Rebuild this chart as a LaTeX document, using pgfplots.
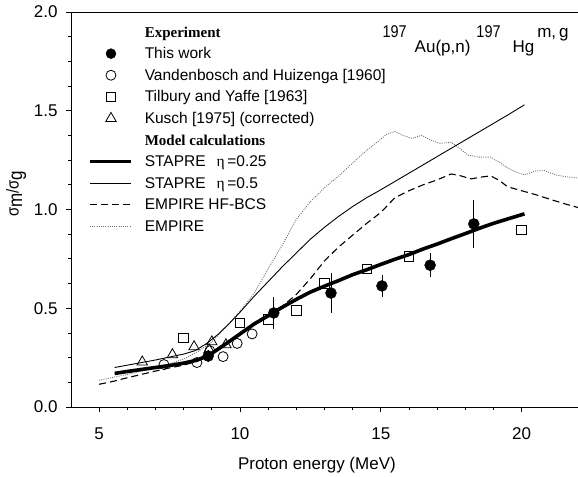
\documentclass[border=0pt]{standalone}
\usepackage{fontspec}
\setmainfont{Liberation Sans}
\newfontfamily\serifb{Liberation Serif}
\newfontfamily\serifeta{Liberation Serif}
\usepackage{graphicx}
\usepackage{pgfplots}
\pgfplotsset{compat=1.18}
\begin{document}
\begin{tikzpicture}
\begin{axis}[
  name=ax, at={(0,0)}, anchor=south west,
  scale only axis, width=507bp, height=395bp,
  xmin=4, xmax=22, ymin=0, ymax=2,
  axis line style={draw=none},
  xtick={5,10,15,20}, ytick={0,0.5,1,1.5,2},
  minor x tick num=4, minor y tick num=3,
  xtick pos=bottom, ytick pos=left,
  tick align=outside,
  major tick length=5bp, minor tick length=3bp,
  tick style={black, line width=0.8bp},
  /pgf/number format/assume math mode=true,
  tick label style={font=\fontsize{17bp}{19bp}\selectfont},
  yticklabel style={xshift=-5bp, /pgf/number format/fixed, /pgf/number format/fixed zerofill, /pgf/number format/precision=1},
  xticklabel style={yshift=-12bp},
  xlabel={Proton energy (MeV)},
  every axis x label/.style={at={(axis description cs:0.485,0)}, anchor=base, yshift=-62bp, font=\fontsize{17bp}{19bp}\selectfont},
  ylabel={\scalebox{1}[1.15]{σ\raisebox{-3bp}{\fontsize{17bp}{17bp}\selectfont m}/σ\raisebox{-3bp}{\fontsize{17bp}{17bp}\selectfont g}}},
  every axis y label/.style={at={(axis description cs:-0.108,0.54)}, rotate=90, anchor=center, font=\fontsize{15bp}{17bp}\selectfont},
  legend cell align=left,
  legend image code/.code={\draw[mark repeat=2,mark phase=2,#1] plot coordinates {(0bp,0bp) (21bp,0bp) (41bp,0bp)}; \path (53bp,0bp);},
  legend style={draw=none, fill=none, at={(axis description cs:0.0335,0.97)}, anchor=north west,
    inner sep=0pt, row sep=5.6bp, /tikz/column sep=0pt,
    nodes={inner sep=0pt, text height=13bp, text depth=3bp, font=\fontsize{15.5bp}{17bp}\selectfont}},
]
% EMPIRE (dotted)
\addplot[forget plot, gray!85!black, line width=0.9bp, dash pattern=on 0.9bp off 1.3bp] coordinates {
(5.0,0.135) (5.5,0.150) (6.0,0.165) (6.5,0.182) (7.0,0.200) (7.5,0.218) (8.0,0.243)
(8.5,0.280) (9.0,0.330) (9.5,0.405) (10.0,0.485) (10.5,0.575) (11.0,0.700) (11.5,0.820)
(12.0,0.950) (12.5,1.040) (13.0,1.110) (13.5,1.170) (14.0,1.235) (14.5,1.300) (14.9,1.345)
(15.2,1.380) (15.5,1.395) (15.8,1.375) (16.1,1.360) (16.45,1.375) (16.8,1.350) (17.1,1.335)
(17.5,1.340) (17.8,1.310) (18.1,1.275) (18.5,1.265) (18.9,1.265) (19.2,1.240) (19.5,1.210)
(19.8,1.190) (20.1,1.175) (20.5,1.195) (20.8,1.198) (21.2,1.175) (21.6,1.165) (22.0,1.160)};
% EMPIRE HF-BCS (dashed)
\addplot[forget plot, black, line width=1.1bp, dash pattern=on 7bp off 4bp] coordinates {
(5.0,0.115) (5.5,0.130) (6.0,0.148) (6.5,0.165) (7.0,0.182) (7.5,0.198) (8.0,0.212)
(8.5,0.232) (9.0,0.265) (9.5,0.315) (10.0,0.370) (10.5,0.425) (11.0,0.470) (11.5,0.510)
(12.0,0.570) (12.5,0.650) (13.0,0.740) (13.5,0.810) (14.0,0.870) (14.5,0.930) (15.0,0.985)
(15.5,1.060) (16.0,1.095) (16.5,1.125) (17.0,1.150) (17.5,1.180) (17.8,1.172) (18.2,1.155)
(18.6,1.165) (18.9,1.170) (19.2,1.148) (19.5,1.115) (20.0,1.095) (20.5,1.075) (21.0,1.052)
(21.5,1.030) (22.0,1.010)};
% STAPRE eta=0.5 (thin)
\addplot[forget plot, black, line width=0.9bp] coordinates {
(5.55,0.200) (7.0,0.238) (8.0,0.268) (8.4,0.285) (8.8,0.320) (9.2,0.365) (9.6,0.420)
(10.0,0.480) (10.5,0.560) (11.0,0.635) (11.5,0.710) (12.0,0.780) (12.5,0.850) (13.0,0.910)
(13.5,0.965) (14.0,1.015) (14.5,1.060) (15.0,1.100) (15.5,1.142) (16.0,1.184) (16.5,1.226)
(17.0,1.268) (17.5,1.310) (18.0,1.352) (18.5,1.394) (19.0,1.436) (19.5,1.478) (20.1,1.530)};
% STAPRE eta=0.25 (thick)
\addplot[forget plot, black, line width=3.6bp] coordinates {
(5.55,0.170) (6.0,0.180) (7.0,0.200) (7.5,0.210) (8.0,0.222) (8.4,0.235) (8.7,0.250)
(9.0,0.272) (9.5,0.320) (10.0,0.370) (10.5,0.420) (11.0,0.462) (11.5,0.505) (12.0,0.545)
(12.5,0.582) (13.0,0.612) (13.5,0.640) (14.0,0.670) (14.5,0.695) (15.0,0.722) (15.5,0.748)
(16.0,0.772) (16.5,0.800) (17.0,0.825) (17.5,0.852) (18.0,0.878) (18.5,0.905) (19.0,0.930)
(19.5,0.952) (20.1,0.978)};
% Kusch triangles
\addplot[forget plot, only marks, mark=triangle, mark size=6bp, mark options={black, line width=0.8bp}] coordinates {
(6.53,0.228) (7.6,0.265) (8.37,0.305) (8.9,0.29) (9.0,0.33) (9.5,0.315)};
% Tilbury squares
\addplot[forget plot, only marks, mark=square, mark size=4.8bp, mark options={black, line width=0.8bp}] coordinates {
(8.0,0.35) (10.0,0.425) (11.0,0.445) (12.0,0.49) (13.0,0.627) (14.5,0.70) (16.0,0.764) (20.0,0.896)};
% Vandenbosch circles
\addplot[forget plot, only marks, mark=o, mark size=5bp, mark options={black, line width=0.8bp}] coordinates {
(7.3,0.215) (8.47,0.225) (8.93,0.285) (9.4,0.255) (9.9,0.322) (10.43,0.37)};
% This work
\addplot[forget plot, only marks, mark=*, mark size=5.5bp, mark options={black},
  error bars/.cd, y dir=both, y explicit, error mark=none,
  error bar style={black, line width=0.9bp}] coordinates {
(8.87,0.258) +- (0,0.03)
(11.2,0.476) +- (0,0.08)
(13.23,0.577) +- (0,0.10)
(15.04,0.613) +- (0,0.055)
(16.75,0.718) +- (0,0.06)
(18.3,0.927) +- (0,0.12)};
% legend
\addlegendimage{empty legend}
\addlegendentry{\serifb\bfseries\fontsize{15bp}{17bp}\selectfont Experiment}
\addlegendimage{only marks, mark=*, mark size=5bp, black}
\addlegendentry{This work}
\addlegendimage{only marks, mark=o, mark size=5bp, black, line width=0.8bp}
\addlegendentry{Vandenbosch and Huizenga [1960]}
\addlegendimage{only marks, mark=square, mark size=4.8bp, black, line width=0.8bp}
\addlegendentry{Tilbury and Yaffe [1963]}
\addlegendimage{only marks, mark=triangle, mark size=6bp, black, line width=0.8bp}
\addlegendentry{Kusch [1975] (corrected)}
\addlegendimage{empty legend}
\addlegendentry{\serifb\bfseries\fontsize{15bp}{17bp}\selectfont Model calculations}
\addlegendimage{black, line width=3.6bp}
\addlegendentry{STAPRE\hspace{11bp}{\serifeta η}\,=0.25}
\addlegendimage{black, line width=0.9bp}
\addlegendentry{STAPRE\hspace{11bp}{\serifeta η}\,=0.5}
\addlegendimage{black, line width=1.1bp, dash pattern=on 7bp off 4bp}
\addlegendentry{EMPIRE HF-BCS}
\addlegendimage{gray!85!black, line width=0.9bp, dash pattern=on 0.9bp off 1.3bp}
\addlegendentry{EMPIRE}
\node[anchor=base east, font=\fontsize{17bp}{19bp}\selectfont, inner sep=0pt] at (axis cs:21.67,1.797)
  {\raisebox{15bp}{\scalebox{0.85}[1]{197}}\hspace{8bp}Au(p,n)\hspace{6bp}\raisebox{15bp}{\scalebox{0.85}[1]{197}}\hspace{12bp}Hg\hspace{3bp}\raisebox{15bp}{m,\,g}};
\end{axis}
\draw[line width=0.8bp] (507bp,395bp) -- (0,395bp) -- (0,0) -- (507bp,0);
\pgfresetboundingbox
\path[use as bounding box] (-71bp,-70bp) rectangle (507bp,407bp);
\end{tikzpicture}
\end{document}
